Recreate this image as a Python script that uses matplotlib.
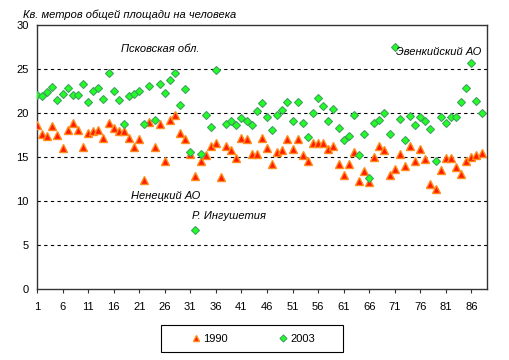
import numpy as np
import matplotlib
matplotlib.use("Agg")
import matplotlib.pyplot as plt
from matplotlib.ticker import FixedLocator
from matplotlib.patches import Rectangle

plt.rcParams['font.family'] = ['Liberation Sans', 'DejaVu Sans']

regions = list(range(1, 89))

v1990 = [18.6, 17.6, 17.35, 18.5, 17.45, 16.0, 18.1, 18.9, 18.1, 16.1,
         17.7, 17.95, 18.1, 17.2, 18.9, 18.35, 17.95, 17.95, 17.2, 16.1,
         17.05, 12.4, 19.0, 16.1, 18.75, 14.5, 19.2, 19.8, 17.7, 17.05,
         15.3, 12.8, 14.5, 15.2, 16.3, 16.6, 12.75, 16.2, 15.75, 14.85,
         17.2, 17.05, 15.3, 15.3, 17.2, 16.0, 14.2, 15.55, 15.75, 17.1,
         15.9, 17.0, 15.2, 14.5, 16.55, 16.55, 16.55, 15.9, 16.3, 14.2,
         12.9, 14.2, 15.55, 12.3, 13.4, 12.2, 14.95, 16.2, 15.75, 12.9,
         13.6, 15.3, 13.95, 16.2, 14.5, 15.9, 14.75, 11.9, 11.35, 13.5,
         14.85, 14.85, 13.85, 13.05, 14.5, 15.05, 15.2, 15.4]

v2003 = [22.1, 21.9, 22.4, 23.0, 21.5, 22.2, 22.8, 22.0, 22.0, 23.3,
         21.25, 22.5, 22.8, 21.6, 24.5, 22.5, 21.5, 18.8, 21.9, 22.2,
         22.5, 18.8, 23.1, 19.2, 23.3, 22.3, 23.75, 24.5, 20.9, 22.7,
         15.6, 6.7, 15.35, 19.75, 18.4, 24.85, np.nan, 18.75, 19.1, 18.65,
         19.45, 19.1, 18.65, 20.25, 21.1, 19.6, 18.1, 19.75, 20.35, 21.25,
         19.1, 21.25, 18.85, 17.25, 20.0, 21.7, 20.8, 19.1, 20.45, 18.3,
         16.95, 17.4, 19.75, 15.2, 17.6, 12.6, 18.85, 19.2, 20.0, 17.6,
         27.5, 19.3, 16.95, 19.65, 18.65, 19.55, 19.05, 18.2, 14.55, 19.55,
         18.85, 19.55, 19.55, 21.25, 22.85, 25.7, 21.35, 20.0]

xticks = list(range(1, 89, 5))
yticks = [0, 5, 10, 15, 20, 25, 30]

ylabel = "Кв. метров общей площади на человека"
annotations = [("Псковская обл.", 17.5, 27.3),
               ("Ненецкий АО", 19.3, 10.6),
               ("Р. Ингушетия", 31.3, 8.3),
               ("Эвенкийский АО", 71.3, 26.9)]

fig = plt.figure(figsize=(5.09, 3.6), dpi=100)
ax = fig.add_axes([37/509, 71/360, (486.7-37)/509, (289-25)/360])

for y in [5, 10, 15, 20, 25]:
    ax.axhline(y, color='black', lw=0.8, ls=(0, (3, 3)), zorder=1)

ax.plot(regions, v1990, ls='none', marker='^', markersize=5.5,
        markerfacecolor='#ff1a00', markeredgecolor='#ff8c1a', markeredgewidth=1.0,
        label='1990', zorder=3)
ax.plot(regions, v2003, ls='none', marker='D', markersize=4.2,
        markerfacecolor='#22ff22', markeredgecolor='#40a060', markeredgewidth=0.8,
        label='2003', zorder=4)

ax.set_xlim(1, 89)
ax.set_ylim(0, 30)
ax.xaxis.set_major_locator(FixedLocator(xticks))
ax.set_xticklabels([str(t) for t in xticks])
ax.yaxis.set_major_locator(FixedLocator(yticks))
ax.set_yticklabels([str(t) for t in yticks])
ax.tick_params(axis='both', labelsize=8, color='#333333', length=3, width=0.8)
ax.tick_params(axis='x', pad=6)
ax.tick_params(axis='y', length=0, pad=6)
for s in ax.spines.values():
    s.set_color('#333333')
    s.set_linewidth(1.0)

for txt, x, y in annotations:
    ax.text(x, y, txt, fontsize=8, style='italic', va='center', ha='left', zorder=5)

fig.text(23/509, (360-14.7)/360, ylabel, fontsize=8, style='italic', va='center', ha='left')

leg = fig.legend(loc='center', bbox_to_anchor=(253/509, (360-338.5)/360),
                 ncol=2, fontsize=8, frameon=False,
                 handlelength=0.8, handletextpad=0.25, columnspacing=4.6,
                 borderaxespad=0, markerscale=0.85)
fig.patches.append(Rectangle((161/509, 8/360), 182/509, 27/360,
                             transform=fig.transFigure, fill=False,
                             edgecolor='black', linewidth=0.8))

fig.savefig('out.png', dpi=100)
